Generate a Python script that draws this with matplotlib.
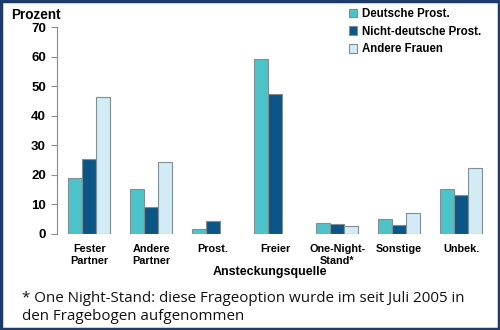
import matplotlib
matplotlib.use("Agg")
import matplotlib.pyplot as plt
import numpy as np
from matplotlib.patches import Rectangle

categories = ["Fester\nPartner", "Andere\nPartner", "Prost.", "Freier",
              "One-Night-\nStand*", "Sonstige", "Unbek."]
series_names = ["Deutsche Prost.", "Nicht-deutsche Prost.", "Andere Frauen"]
deutsche = [18.9, 15.2, 1.7, 59.2, 3.7, 5.1, 15.2]
nicht_deutsche = [25.4, 9.1, 4.4, 47.3, 3.4, 3.0, 13.2]
andere_frauen = [46.3, 24.3, 0.0, 0.0, 2.7, 7.1, 22.3]
y_ticks = [0, 10, 20, 30, 40, 50, 60, 70]

colors = ["#4cc3c9", "#0b5686", "#d3ebf4"]
edge = "#7f8f96"

plt.rcParams["font.family"] = ["Liberation Sans", "DejaVu Sans"]

fig = plt.figure(figsize=(5.0, 3.3), dpi=100)
ax = fig.add_axes([0.114, 0.291, 0.87, 0.627])

x = np.arange(len(categories))
w = 0.225
for i, (vals, c, name) in enumerate(zip([deutsche, nicht_deutsche, andere_frauen],
                                         colors, series_names)):
    vals = np.array(vals)
    mask = vals > 0
    ax.bar(x[mask] + (i - 1) * w, vals[mask], width=w, color=c,
           edgecolor=edge, linewidth=0.8, label=name)

ax.set_xlim(-0.52, 6.5)
ax.set_ylim(0, 70)
ax.set_yticks(y_ticks)
ax.set_yticklabels([str(t) for t in y_ticks], fontsize=9.5, fontweight="bold")
ax.set_xticks(x)
ax.set_xticklabels(categories, fontsize=7.8, fontweight="bold", linespacing=1.35)
ax.tick_params(axis="x", length=0, pad=7)
ax.tick_params(axis="y", length=4, color="#8a8a8a", width=0.8, pad=4)
for s in ["top", "right", "bottom"]:
    ax.spines[s].set_visible(False)
ax.spines["left"].set_color("#8a8a8a")
ax.spines["left"].set_linewidth(0.8)

fig.text(0.022, 0.955, "Prozent", fontsize=9.8, fontweight="bold", ha="left", va="center")
fig.text(0.54, 0.175, "Ansteckungsquelle", fontsize=9, fontweight="bold",
         ha="center", va="center")

leg = ax.legend(loc="upper left", bbox_to_anchor=(0.66, 1.115), frameon=False,
                prop={"weight": "bold", "size": 8.3},
                handlelength=0.75, handleheight=0.75, handletextpad=0.4,
                labelspacing=0.5, borderaxespad=0)

fig.text(0.045, 0.068, "* One Night-Stand: diese Frageoption wurde im seit Juli 2005 in\nden Fragebogen aufgenommen",
         fontsize=10.9, family=["Open Sans", "DejaVu Sans"], ha="left", va="center",
         linespacing=1.2, color="#111111")

fig.patches.append(Rectangle((0.002, 0.003), 0.996, 0.994, transform=fig.transFigure,
                             fill=False, edgecolor="#1d3a6b", linewidth=2.5))

fig.savefig("out.png", dpi=100)
